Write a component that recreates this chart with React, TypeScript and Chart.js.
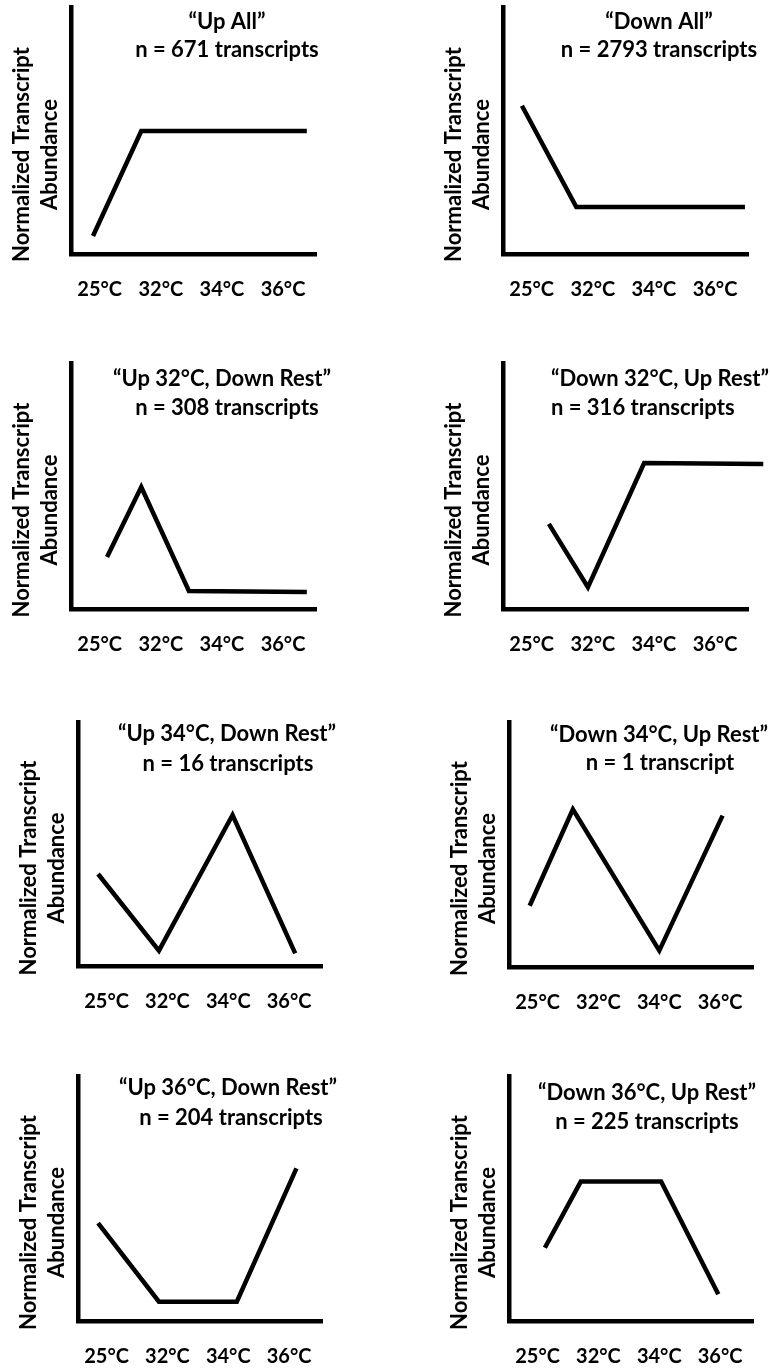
import React, { useEffect, useRef } from 'react';
import { Chart, registerables } from 'chart.js';

Chart.register(...registerables);

// Temperature slots along the x axis
const TEMPERATURES = ['25°C', '32°C', '34°C', '36°C'];
const Y_TITLE = ['Normalized Transcript', 'Abundance'];

// Expression pattern names and cluster sizes
const PATTERNS = [
  '“Up All”',
  '“Down All”',
  '“Up 32°C, Down Rest”',
  '“Down 32°C, Up Rest”',
  '“Up 34°C, Down Rest”',
  '“Down 34°C, Up Rest”',
  '“Up 36°C, Down Rest”',
  '“Down 36°C, Up Rest”',
];
const COUNTS = [
  'n = 671 transcripts',
  'n = 2793 transcripts',
  'n = 308 transcripts',
  'n = 316 transcripts',
  'n = 16 transcripts',
  'n = 1 transcript',
  'n = 204 transcripts',
  'n = 225 transcripts',
];

// Schematic profile vertices: x in temperature-slot units (0 = 25°C … 3 = 36°C),
// y in relative abundance (0–10)
const UP_ALL_X = [-0.11, 0.68, 3.39];
const UP_ALL_Y = [0.73, 4.98, 4.98];
const DOWN_ALL_X = [-0.16, 0.73, 3.49];
const DOWN_ALL_Y = [6.0, 1.9, 1.9];
const UP32_X = [0.12, 0.68, 1.46, 3.39];
const UP32_Y = [2.11, 4.96, 0.73, 0.69];
const DOWN32_X = [0.28, 0.92, 1.84, 3.79];
const DOWN32_Y = [3.46, 0.89, 5.93, 5.89];
const UP34_X = [-0.14, 0.86, 2.07, 3.1];
const UP34_Y = [3.77, 0.63, 6.19, 0.52];
const DOWN34_X = [-0.13, 0.58, 2.0, 3.04];
const DOWN34_Y = [2.5, 6.44, 0.67, 6.18];
const UP36_X = [-0.14, 0.86, 2.14, 3.12];
const UP36_Y = [3.99, 0.79, 0.79, 6.23];
const DOWN36_X = [0.12, 0.71, 2.03, 2.97];
const DOWN36_Y = [2.99, 5.69, 5.69, 1.09];

const PROFILES = [
  [UP_ALL_X, UP_ALL_Y],
  [DOWN_ALL_X, DOWN_ALL_Y],
  [UP32_X, UP32_Y],
  [DOWN32_X, DOWN32_Y],
  [UP34_X, UP34_Y],
  [DOWN34_X, DOWN34_Y],
  [UP36_X, UP36_Y],
  [DOWN36_X, DOWN36_Y],
];

// Page layout
const PAGE_W = 770;
const PAGE_H = 1372;
const CELL_W = 385;
const CELL_H = 343;
const X_AXIS_H = 50;
const X_MIN = -0.47;
const X_MAX = 3.54;
const FONT_FAMILY = 'Lato, "Open Sans", "DejaVu Sans", sans-serif';
const TEXT_SIZE = 22;
const TICK_SIZE = 20;
const LINE_W = 4.5;

// Axis boxes [left, top, right, bottom] in page pixels
const AXIS_BOXES = [
  [71, 7, 316, 254],
  [503, 7, 748, 254],
  [71, 363, 316, 609],
  [503, 363, 748, 609],
  [78, 722, 322, 966],
  [509, 722, 753, 967],
  [78, 1076, 322, 1321],
  [509, 1076, 753, 1321],
];

// Heading placement relative to the axis box corner: [align, x per line, y per line]
const HEADINGS: [CanvasTextAlign, number[], number[]][] = [
  ['center', [156, 156], [15, 43]],
  ['center', [156, 156], [15, 43]],
  ['center', [151, 156], [16, 45]],
  ['left', [48, 48], [16, 45]],
  ['center', [149, 150], [12, 42]],
  ['center', [150, 151], [13, 41]],
  ['center', [150, 153], [12, 42]],
  ['center', [138, 138], [17, 46]],
];

const panelTextPlugin = {
  id: 'panelText',
  afterDraw(chart: any, _args: any, opts: any) {
    const { ctx, chartArea } = chart;
    ctx.save();
    ctx.fillStyle = '#000';
    ctx.font = `bold ${TEXT_SIZE}px ${FONT_FAMILY}`;
    ctx.textBaseline = 'middle';
    ctx.textAlign = opts.align;
    opts.lines.forEach((text: string, i: number) => {
      ctx.fillText(text, chartArea.left + opts.dx[i], chartArea.top + opts.dy[i]);
    });
    // rotated y-axis title, two columns
    ctx.translate(chartArea.left, (chartArea.top + chartArea.bottom) / 2 + 24);
    ctx.rotate(-Math.PI / 2);
    ctx.textAlign = 'center';
    Y_TITLE.forEach((text, i) => {
      ctx.fillText(text, 0, i === 0 ? -49 : -21);
    });
    ctx.restore();
  },
};

function Panel({ index }: { index: number }) {
  const ref = useRef<HTMLCanvasElement>(null);
  const col = index % 2;
  const row = Math.floor(index / 2);
  const originX = col * CELL_W;
  const originY = row * CELL_H;

  useEffect(() => {
    const [l, t, r, b] = AXIS_BOXES[index];
    const [xs, ys] = PROFILES[index];
    const [align, dx, dy] = HEADINGS[index];
    const font = { family: FONT_FAMILY, size: TICK_SIZE, weight: 'bold' as const };
    const chart = new Chart(ref.current!, {
      type: 'line',
      data: {
        datasets: [
          {
            data: xs.map((x, i) => ({ x, y: ys[i] })),
            borderColor: '#000',
            borderWidth: LINE_W,
            pointRadius: 0,
            tension: 0,
            clip: false,
            borderCapStyle: 'butt',
            borderJoinStyle: 'miter',
          } as any,
        ],
      },
      options: {
        responsive: false,
        animation: false,
        devicePixelRatio: 1,
        events: [],
        layout: {
          padding: {
            left: l - originX,
            top: t - originY,
            right: originX + CELL_W - r,
            bottom: originY + CELL_H - b - X_AXIS_H,
          },
        },
        plugins: {
          legend: { display: false },
          tooltip: { enabled: false },
          panelText: { align, dx, dy, lines: [PATTERNS[index], COUNTS[index]] },
        } as any,
        scales: {
          x: {
            type: 'linear',
            min: X_MIN,
            max: X_MAX,
            afterFit: (s: any) => {
              s.height = X_AXIS_H;
            },
            afterBuildTicks: (s: any) => {
              s.ticks = TEMPERATURES.map((_, i) => ({ value: i }));
            },
            ticks: {
              callback: (v: any) => TEMPERATURES[Math.round(Number(v))],
              font,
              color: '#000',
              padding: 24,
              maxRotation: 0,
              autoSkip: false,
            },
            grid: { display: false, drawTicks: false },
            border: { color: '#000', width: LINE_W },
          },
          y: {
            min: 0,
            max: 10,
            afterFit: (s: any) => {
              s.width = 0;
            },
            ticks: { display: false },
            grid: { display: false, drawTicks: false },
            border: { color: '#000', width: LINE_W },
          },
        },
      },
      plugins: [panelTextPlugin],
    });
    return () => chart.destroy();
  }, [index]);

  return (
    <canvas
      ref={ref}
      width={CELL_W}
      height={CELL_H}
      style={{ position: 'absolute', left: originX, top: originY, width: CELL_W, height: CELL_H }}
    />
  );
}

export default function App() {
  return (
    <div
      style={{
        position: 'absolute',
        left: 0,
        top: 0,
        width: PAGE_W,
        height: PAGE_H,
        background: '#fff',
        overflow: 'hidden',
      }}
    >
      {PATTERNS.map((_, i) => (
        <Panel key={i} index={i} />
      ))}
    </div>
  );
}
